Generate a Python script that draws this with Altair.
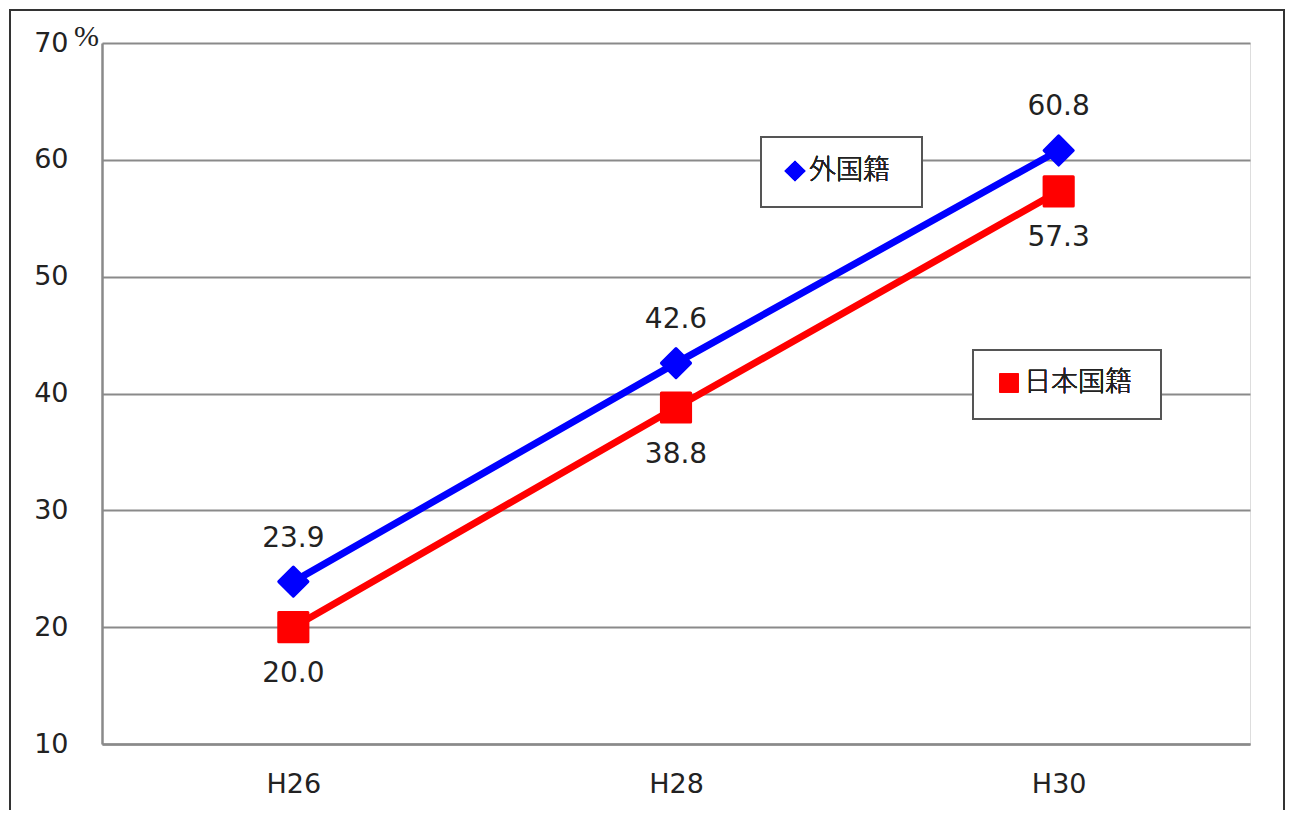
import altair as alt
import pandas as pd

years = ["H26", "H28", "H30"]
foreign = [23.9, 42.6, 60.8]
japanese = [20.0, 38.8, 57.3]
series_names = ["外国籍", "日本国籍"]
y_ticks = [10, 20, 30, 40, 50, 60, 70]

df = pd.DataFrame(
    [{"year": y, "series": series_names[0], "value": v} for y, v in zip(years, foreign)]
    + [{"year": y, "series": series_names[1], "value": v} for y, v in zip(years, japanese)]
)
df["label"] = df["value"].map(lambda v: f"{v:.1f}")

W, H = 1148, 701
FONT = "DejaVu Sans"

x_enc = alt.X("year:N", sort=years, title=None,
              scale=alt.Scale(paddingInner=0, paddingOuter=0),
              axis=alt.Axis(labelAngle=0, ticks=False, domain=True, domainColor="#8a8a8a",
                            domainWidth=2.5, labelFont=FONT, labelFontSize=27,
                            labelColor="#222", labelPadding=27, grid=False))
y_enc = alt.Y("value:Q", scale=alt.Scale(domain=[10, 70], nice=False),
              axis=alt.Axis(values=y_ticks, ticks=False, domain=True, domainColor="#8a8a8a",
                            domainWidth=2.5, grid=True, gridColor="#8a8a8a", gridWidth=2,
                            labelFont=FONT, labelFontSize=27, labelColor="#222",
                            labelPadding=34, title="%", titleAngle=0, titleX=-16,
                            titleY=8, titleFont="Liberation Serif", titleFontSize=30,
                            titleFontWeight="normal", titleColor="#222", titleAlign="center"))

color_scale = alt.Scale(domain=series_names, range=["#0000ff", "#ff0000"])

base = alt.Chart(df).encode(x=x_enc, y=y_enc)

lines = base.mark_line(strokeWidth=7).encode(
    color=alt.Color("series:N", scale=color_scale, legend=None),
    detail="series:N")

pts_f = alt.Chart(df[df.series == series_names[0]]).mark_point(
    shape="diamond", filled=True, opacity=1, size=850, color="#0000ff",
    strokeJoin="round", stroke="#0000ff", strokeWidth=3).encode(x=x_enc, y=y_enc)
pts_j = alt.Chart(df[df.series == series_names[1]]).mark_point(
    shape="square", filled=True, opacity=1, size=850, color="#ff0000",
    strokeJoin="round", stroke="#ff0000", strokeWidth=3).encode(x=x_enc, y=y_enc)

lab_f = alt.Chart(df[df.series == series_names[0]]).mark_text(
    dy=-43, font=FONT, fontSize=28, color="#222").encode(x=x_enc, y=y_enc, text="label:N")
lab_j = alt.Chart(df[df.series == series_names[1]]).mark_text(
    dy=47, font=FONT, fontSize=28, color="#222").encode(x=x_enc, y=y_enc, text="label:N")

# legend boxes (annotations)
box1 = alt.Chart(df).mark_rect(fill="white", stroke="#555", strokeWidth=2).encode(
    x=alt.value(659), x2=alt.value(820), y=alt.value(94), y2=alt.value(164))
sym1 = alt.Chart(df).mark_point(shape="diamond", filled=True, size=430, color="#0000ff",
                                opacity=1).encode(x=alt.value(693), y=alt.value(128))
txt1 = alt.Chart(df).mark_text(text=series_names[0], align="left", baseline="middle",
                               font="Noto Sans CJK JP", fontSize=27, fontWeight=300,
                               color="#222").encode(x=alt.value(707), y=alt.value(128))

box2 = alt.Chart(df).mark_rect(fill="white", stroke="#555", strokeWidth=2).encode(
    x=alt.value(871), x2=alt.value(1059), y=alt.value(307), y2=alt.value(376))
sym2 = alt.Chart(df).mark_point(shape="square", filled=True, size=360, color="#ff0000",
                                opacity=1).encode(x=alt.value(907), y=alt.value(340))
txt2 = alt.Chart(df).mark_text(text=series_names[1], align="left", baseline="middle",
                               font="Noto Sans CJK JP", fontSize=27, fontWeight=300,
                               color="#222").encode(x=alt.value(922), y=alt.value(340))

frame = alt.Chart(df).mark_rect(fill=None, stroke="#333", strokeWidth=2, clip=False).encode(
    x=alt.value(-92), x2=alt.value(1182), y=alt.value(-33), y2=alt.value(820))

chart = alt.layer(
    lines, pts_f, pts_j, lab_f, lab_j, box1, sym1, txt1, box2, sym2, txt2, frame
).properties(
    width=W, height=H,
    autosize=alt.AutoSizeParams(type="none"),
    padding={"left": 94, "top": 35, "right": 35, "bottom": 66},
).configure_view(stroke=None).configure(background="white")

chart.save("out.html", embed_options={"renderer": "svg", "actions": False})
